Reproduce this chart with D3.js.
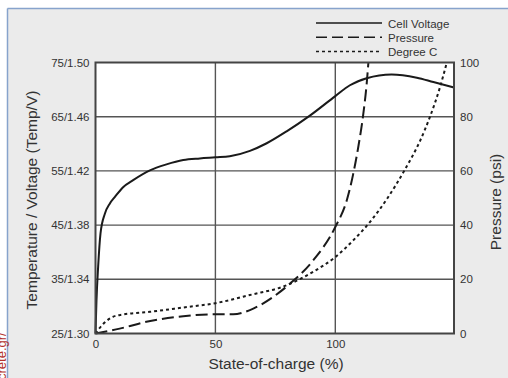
<!DOCTYPE html>
<html>
<head>
<meta charset="utf-8">
<script src="https://cdn.jsdelivr.net/npm/d3@7"></script>
<style>
  html, body { margin: 0; padding: 0; background: #fff; }
  svg { display: block; }
  text { font-family: "Liberation Sans", Arial, sans-serif; fill: #333; }
</style>
</head>
<body>
<svg id="chart" width="508" height="378"></svg>
<script>
// State of charge (%) vs. cell voltage, pressure and temperature
const leftTicks = [25, 35, 45, 55, 65, 75];
const leftTickLabels = ["25/1.30", "35/1.34", "45/1.38", "55/1.42", "65/1.46", "75/1.50"];
const rightTicks = [0, 20, 40, 60, 80, 100];
const xTicks = [0, 50, 100];

// Cell voltage, on the temperature/voltage scale
const voltageSoc = [0, 0.4, 1.1, 2.1, 3.9, 6, 8.1, 11.5, 15.7, 22.7, 29.6, 36.6, 43.5, 50, 56, 64.4, 71.4, 79.7, 89.4, 100, 106.1, 113.1, 123.5, 134, 140.9, 149.5];
const voltageVal = [25, 31, 37.3, 43.5, 47.1, 49, 50.2, 52, 53.3, 55.1, 56.2, 57, 57.3, 57.5, 57.7, 58.7, 60.1, 62.3, 65.2, 68.8, 70.8, 72.1, 72.8, 72.2, 71.4, 70.4];

// Pressure (psi), on the right scale
const pressureSoc = [0, 10.1, 21.2, 36.6, 50, 57.4, 65.8, 74.1, 81.1, 90.8, 100, 104.8, 107.5, 109.6, 111.7, 113.1, 113.8];
const pressureVal = [0, 1.8, 4.3, 6.4, 7.1, 7.1, 9.2, 13.5, 18.4, 27, 39.3, 49.2, 59, 68.9, 81.2, 92.3, 100];

// Temperature (degree C), on the temperature/voltage scale
const tempSoc = [0, 3.3, 7.4, 11.5, 22.7, 36.6, 50, 64.4, 79.7, 90.8, 100, 107.5, 114.5, 121.5, 129.1, 135.4, 139.5, 143.7, 146.5];
const tempVal = [25, 26.8, 28.1, 28.5, 29.0, 29.8, 30.6, 32.1, 33.9, 36.4, 39.1, 42.2, 45.6, 49.8, 55.3, 60.6, 65.0, 70.5, 75];

const seriesNames = ["Cell Voltage", "Pressure", "Degree C"];

const svg = d3.select("#chart");

// panel background with its edge lines
svg.append("rect").attr("x", 7).attr("y", 8).attr("width", 501).attr("height", 370).attr("fill", "#ebebeb");
svg.append("line").attr("x1", 7.5).attr("x2", 508).attr("y1", 8.5).attr("y2", 8.5)
  .attr("stroke", "#87a3cc").attr("stroke-width", 1.5);
svg.append("line").attr("x1", 7.5).attr("x2", 7.5).attr("y1", 8.5).attr("y2", 378)
  .attr("stroke", "#87a3cc").attr("stroke-width", 1.5);

const x = d3.scaleLinear().domain([0, 149.5]).range([95.5, 454]);
const yL = d3.scaleLinear().domain([25, 75]).range([333.5, 62.5]);
const yR = d3.scaleLinear().domain([0, 100]).range([333.5, 62.5]);

// plot area
svg.append("rect").attr("x", x(0)).attr("y", yL(75))
  .attr("width", x(149.5) - x(0)).attr("height", yL(25) - yL(75))
  .attr("fill", "#fff");

// gridlines
const grid = svg.append("g").attr("stroke", "#555").attr("stroke-width", 1.4);
grid.selectAll("line.h").data(leftTicks.slice(1, -1)).join("line")
  .attr("x1", x(0)).attr("x2", x(149.5))
  .attr("y1", d => yL(d)).attr("y2", d => yL(d));
grid.selectAll("line.v").data(xTicks.slice(1)).join("line")
  .attr("y1", yL(25)).attr("y2", yL(75))
  .attr("x1", d => x(d)).attr("x2", d => x(d));

// left axis labels
const axL = svg.append("g").attr("transform", `translate(${x(0)},0)`)
  .call(d3.axisLeft(yL).tickValues(leftTicks).tickSize(0).tickPadding(6)
    .tickFormat((d, i) => leftTickLabels[i]));
axL.select(".domain").remove();
axL.selectAll("text").attr("font-size", 11.5).attr("font-family", null).attr("fill", "#333");

// right axis labels
const axR = svg.append("g").attr("transform", `translate(${x(149.5)},0)`)
  .call(d3.axisRight(yR).tickValues(rightTicks).tickSize(0).tickPadding(6));
axR.select(".domain").remove();
axR.selectAll("text").attr("font-size", 11.5).attr("font-family", null).attr("fill", "#333");

// bottom axis labels
const axB = svg.append("g").attr("transform", `translate(0,${yL(25)})`)
  .call(d3.axisBottom(x).tickValues(xTicks).tickSize(0).tickPadding(6));
axB.select(".domain").remove();
axB.selectAll("text").attr("font-size", 11.5).attr("font-family", null).attr("fill", "#333");

// curves
const plot = svg.append("g").attr("fill", "none").attr("stroke", "#1a1a1a").attr("stroke-width", 2);

const voltage = voltageSoc.map((s, i) => [s, voltageVal[i]]);
const pressure = pressureSoc.map((s, i) => [s, pressureVal[i]]);
const temp = tempSoc.map((s, i) => [s, tempVal[i]]);

plot.append("path").datum(voltage)
  .attr("d", d3.line().x(d => x(d[0])).y(d => yL(d[1])).curve(d3.curveMonotoneX));
plot.append("path").datum(pressure)
  .attr("stroke-dasharray", "12,5")
  .attr("d", d3.line().x(d => x(d[0])).y(d => yR(d[1])).curve(d3.curveMonotoneX));
plot.append("path").datum(temp)
  .attr("stroke-dasharray", "3,3")
  .attr("d", d3.line().x(d => x(d[0])).y(d => yL(d[1])).curve(d3.curveMonotoneX));

// plot frame
svg.append("rect").attr("x", x(0)).attr("y", yL(75))
  .attr("width", x(149.5) - x(0)).attr("height", yL(25) - yL(75))
  .attr("fill", "none").attr("stroke", "#444").attr("stroke-width", 2);

// axis titles
svg.append("text").attr("transform", "translate(37,200) rotate(-90)")
  .attr("text-anchor", "middle").attr("font-size", 15.5).text("Temperature / Voltage (Temp/V)");
svg.append("text").attr("transform", "translate(501,202) rotate(-90)")
  .attr("text-anchor", "middle").attr("font-size", 15.5).text("Pressure (psi)");
svg.append("text").attr("x", 276).attr("y", 369)
  .attr("text-anchor", "middle").attr("font-size", 15.5).text("State-of-charge (%)");

// legend
const dashes = [null, "11,5", "3,3"];
const legend = svg.append("g");
seriesNames.forEach((name, i) => {
  const yy = 23 + i * 14.3;
  legend.append("line").attr("x1", 316).attr("x2", 382).attr("y1", yy).attr("y2", yy)
    .attr("stroke", "#1a1a1a").attr("stroke-width", 1.5)
    .attr("stroke-dasharray", dashes[i]);
  legend.append("text").attr("x", 388).attr("y", yy + 4.5)
    .attr("font-size", 11.5).text(name);
});

// site mark along the left edge
svg.append("text").attr("transform", "translate(6,380) rotate(-90)")
  .attr("font-size", 13).style("fill", "#b3312b").text("crete.gr/");
</script>
</body>
</html>
